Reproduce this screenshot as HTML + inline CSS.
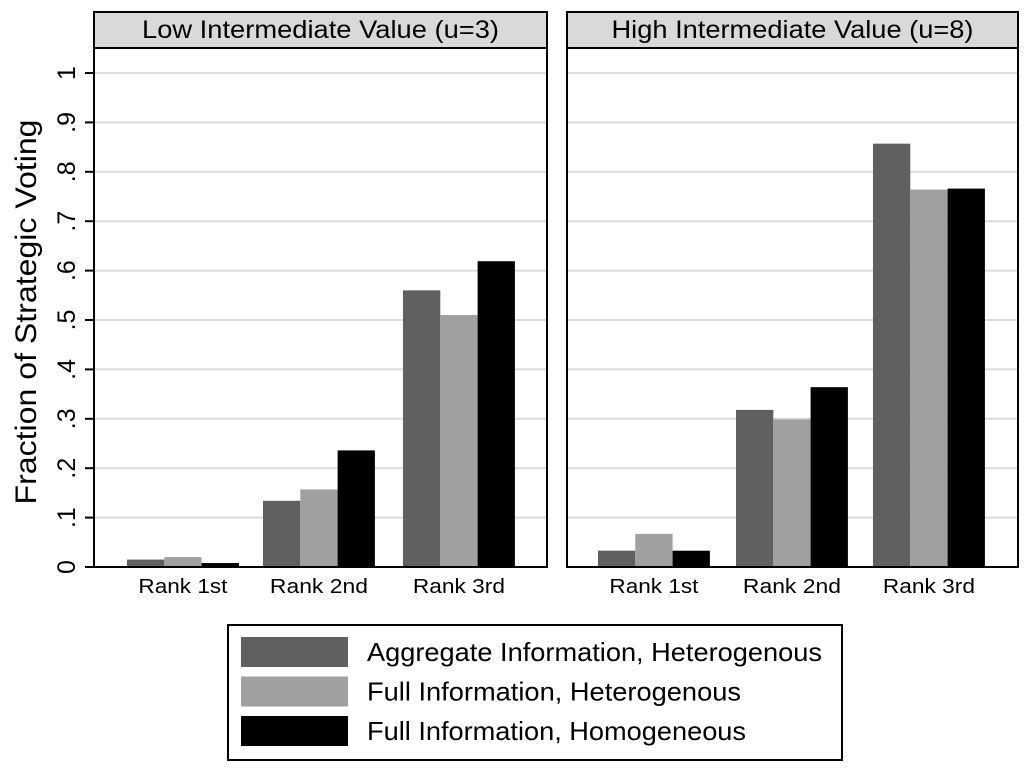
<!DOCTYPE html>
<html><head><meta charset="utf-8"><style>body{margin:0;background:#fff}svg{display:block}</style></head>
<body>
<svg id="chart" width="1024" height="769" viewBox="0 0 1024 769" font-family="Liberation Sans, sans-serif"></svg>
<script>
const categories = ["Rank 1st","Rank 2nd","Rank 3rd"];
const panels = ["Low Intermediate Value (u=3)","High Intermediate Value (u=8)"];
const seriesNames = ["Aggregate Information, Heterogenous","Full Information, Heterogenous","Full Information, Homogeneous"];
const lowAgg = [0.015,0.134,0.560];
const lowFullHet = [0.020,0.157,0.510];
const lowFullHom = [0.008,0.236,0.619];
const highAgg = [0.033,0.318,0.857];
const highFullHet = [0.067,0.299,0.764];
const highFullHom = [0.033,0.364,0.766];
const yTicks = [0,0.1,0.2,0.3,0.4,0.5,0.6,0.7,0.8,0.9,1];
const yTickLabels = ["0",".1",".2",".3",".4",".5",".6",".7",".8",".9","1"];
const colors = ["#606060","#a0a0a0","#000000"];
const NS="http://www.w3.org/2000/svg", svg=document.getElementById('chart');
function mk(t,a,p){const e=document.createElementNS(NS,t);for(const k in a)e.setAttribute(k,a[k]);(p||svg).appendChild(e);return e;}
const y0=567, yTop=73;
const y=v=>y0-(y0-yTop)*v;
const panelX=[[94,547],[567,1018]];
const groupStart=[[127,263,403],[598,736,873]];
const headerLen=[357,362];
const catLen=[89,98,92];
const legLen=[455,374,379];
const bw=37.3;
const data=[[lowAgg,lowFullHet,lowFullHom],[highAgg,highFullHet,highFullHom]];
panelX.forEach((px,pi)=>{
  const g=mk('g',{});
  
  
  yTicks.forEach((t,i)=>{ if(t>0){const l=mk('line',{x1:px[0],x2:px[1],y1:y(t),y2:y(t),stroke:'#dcdcdc','stroke-width':2},g);
    }});
  categories.forEach((c,ci)=>{
    data[pi].forEach((s,si)=>{
      const r=mk('rect',{x:groupStart[pi][ci]+si*bw,y:y(s[ci]),width:bw,height:y0-y(s[ci]),fill:colors[si]},g);
      
      
    });
    const tx=mk('text',{x:groupStart[pi][ci]+1.5*bw,y:593,'text-anchor':'middle','font-size':20,textLength:catLen[ci],lengthAdjust:'spacingAndGlyphs'},g);
    tx.textContent=c;
    
  });
  const h=mk('rect',{x:px[0],y:12,width:px[1]-px[0],height:36,fill:'#d9d9d9',stroke:'#000','stroke-width':2},g);
  
  const ht=mk('text',{x:(px[0]+px[1])/2,y:38,'text-anchor':'middle','font-size':25,textLength:headerLen[pi],lengthAdjust:'spacingAndGlyphs'},g);
  ht.textContent=panels[pi];
  
  const fr=mk('rect',{x:px[0],y:48,width:px[1]-px[0],height:y0-48,fill:'none',stroke:'#000','stroke-width':2},g);
  
});
yTicks.forEach((t,i)=>{
  const l=mk('line',{x1:85,x2:94,y1:y(t),y2:y(t),stroke:'#000','stroke-width':2});
  
  const tx=mk('text',{x:0,y:0,'text-anchor':'middle','font-size':25,transform:`translate(75,${y(t)}) rotate(-90)`});
  tx.textContent=yTickLabels[i];
  
});
const yt=mk('text',{x:0,y:0,'text-anchor':'middle','font-size':30,textLength:385,lengthAdjust:'spacingAndGlyphs',transform:'translate(36,312) rotate(-90)'});
yt.textContent='Fraction of Strategic Voting';

const lb=mk('rect',{x:228,y:625,width:614,height:135,fill:'#fff',stroke:'#000','stroke-width':2});

seriesNames.forEach((n,i)=>{
  const sw=mk('rect',{x:241,y:637+i*39.5,width:107,height:30,fill:colors[i]});
  
  const tx=mk('text',{x:367,y:661+i*39.5,'font-size':26,textLength:legLen[i],lengthAdjust:'spacingAndGlyphs'});
  tx.textContent=n;
  
});
</script>
</body></html>
